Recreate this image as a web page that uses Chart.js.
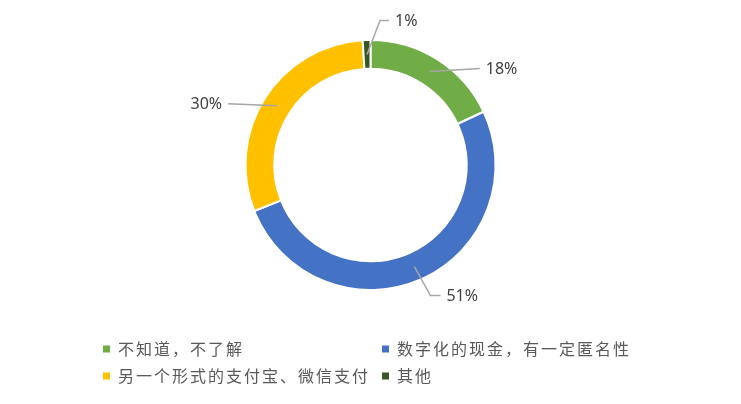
<!DOCTYPE html>
<html>
<head>
<meta charset="utf-8">
<script src="https://cdn.jsdelivr.net/npm/chart.js@4.4.0/dist/chart.umd.min.js"></script>
<style>
    html, body { margin: 0; padding: 0; background: #fff; }
    #wrap { width: 741px; height: 404px; position: relative; }
</style>
</head>
<body>
<div id="wrap"><canvas id="pie"></canvas></div>
<script>
// chart data
const categories = ['不知道，不了解', '数字化的现金，有一定匿名性', '另一个形式的支付宝、微信支付', '其他'];
const shares = [18, 51, 30, 1];
const pctLabels = ['18%', '51%', '30%', '1%'];
const sliceColors = ['#70AD47', '#4472C4', '#FFC000', '#375623'];

// leader line layout per slice: elbow offset, end offset (from anchor), text side
const leaders = [
    { elbow: null, end: [50, -3], align: 'left' },
    { elbow: [16, 29], end: [26, 29], align: 'left' },
    { elbow: null, end: [-49, -2], align: 'right' },
    { elbow: [13, -34], end: [22, -34], align: 'left' }
];

// legend grid
const legendCols = [103, 382];
const legendRows = [349, 376];

const leaderPlugin = {
    id: 'leaderLabels',
    afterDatasetsDraw(chart) {
        const ctx = chart.ctx;
        const meta = chart.getDatasetMeta(0);
        ctx.save();
        meta.data.forEach((arc, i) => {
            const mid = (arc.startAngle + arc.endAngle) / 2;
            const r = (arc.innerRadius + arc.outerRadius) / 2;
            const ax = arc.x + Math.cos(mid) * r;
            const ay = arc.y + Math.sin(mid) * r;
            const L = leaders[i];
            ctx.strokeStyle = '#A6A6A6';
            ctx.lineWidth = 1.5;
            ctx.beginPath();
            ctx.moveTo(ax, ay);
            if (L.elbow) ctx.lineTo(ax + L.elbow[0], ay + L.elbow[1]);
            const ex = ax + L.end[0];
            const ey = ay + L.end[1];
            ctx.lineTo(ex, ey);
            ctx.stroke();
            ctx.fillStyle = '#404040';
            ctx.font = '16px "Noto Sans", sans-serif';
            ctx.textBaseline = 'middle';
            ctx.textAlign = L.align;
            ctx.fillText(pctLabels[i], L.align === 'left' ? ex + 6 : ex - 6, ey + 1);
        });
        ctx.restore();
    },
    afterDraw(chart) {
        const ctx = chart.ctx;
        ctx.save();
        ctx.font = '16px "Noto Sans CJK SC", sans-serif';
        ctx.letterSpacing = '2px';
        ctx.textBaseline = 'middle';
        ctx.textAlign = 'left';
        categories.forEach((name, i) => {
            const x = legendCols[i % 2];
            const y = legendRows[Math.floor(i / 2)];
            ctx.fillStyle = sliceColors[i];
            ctx.fillRect(x, y - 3.5, 7, 7);
            ctx.fillStyle = '#595959';
            ctx.fillText(name, x + 15, y);
        });
        ctx.restore();
    }
};

new Chart(document.getElementById('pie').getContext('2d'), {
    type: 'doughnut',
    data: {
        labels: categories,
        datasets: [{
            data: shares,
            backgroundColor: sliceColors,
            borderColor: '#ffffff',
            borderWidth: 2
        }]
    },
    options: {
        responsive: true,
        maintainAspectRatio: false,
        animation: false,
        cutout: '77%',
        layout: {
            padding: { top: 39, bottom: 113, left: 0, right: 0 }
        },
        plugins: {
            legend: { display: false },
            tooltip: { enabled: false }
        }
    },
    plugins: [leaderPlugin]
});
</script>
</body>
</html>
